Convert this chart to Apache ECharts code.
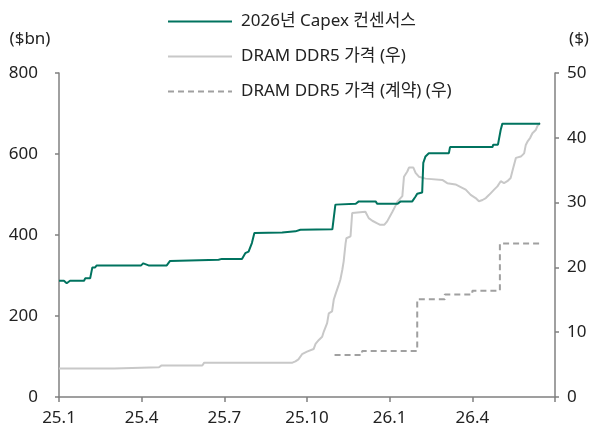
<!DOCTYPE html>
<html>
<head>
<meta charset="utf-8">
<script src="https://cdn.jsdelivr.net/npm/echarts@6/dist/echarts.min.js"></script>
<style>
html,body{margin:0;padding:0;background:#fff;}
#c{width:595px;height:428px;}
</style>
</head>
<body>
<div id="c"></div>
<script>
// X positions are in months since 2025-01 (0 = 25.1)
const xTickLabels = ['25.1', '25.4', '25.7', '25.10', '26.1', '26.4'];
const seriesNames = ['2026년 Capex 컨센서스', 'DRAM DDR5 가격 (우)', 'DRAM DDR5 가격 (계약) (우)'];

// 2026 Capex consensus ($bn, left axis)
const capexData = [
  [0, 287], [0.18, 287], [0.28, 281], [0.40, 287], [0.91, 287], [0.95, 293],
  [1.13, 293], [1.15, 297], [1.20, 297], [1.21, 320], [1.31, 320], [1.37, 325],
  [2.98, 325], [3.06, 330], [3.13, 330], [3.25, 325], [3.91, 325], [4.03, 336],
  [5.79, 339], [5.91, 341], [6.64, 341], [6.76, 355], [6.88, 359], [7.00, 380],
  [7.09, 405], [8.10, 406], [8.15, 409], [8.58, 409], [8.76, 413], [9.92, 414],
  [10.03, 475], [10.10, 477], [10.77, 477], [10.88, 483], [11.49, 483], [11.55, 477],
  [12.29, 477], [12.40, 483], [12.82, 483], [12.94, 495], [13.00, 502], [13.18, 505],
  [13.22, 578], [13.30, 594], [13.42, 602], [14.15, 602], [14.19, 617], [15.73, 617],
  [15.76, 623], [15.93, 623], [16.03, 660], [16.09, 675], [17.46, 675]
];

// DRAM DDR5 spot price ($, right axis)
const dramSpot = [
  [0, 4.4], [2.0, 4.4], [2.07, 4.6], [3.63, 4.6], [3.71, 4.85], [5.2, 4.85],
  [5.27, 5.3], [8.47, 5.3], [8.58, 5.5], [8.69, 5.8], [8.76, 6.0], [8.82, 6.6],
  [9.0, 7.0], [9.24, 7.4], [9.31, 8.2], [9.43, 8.8], [9.55, 9.3], [9.61, 10.1],
  [9.73, 11.4], [9.79, 12.9], [9.91, 13.2], [9.97, 15.0], [10.03, 15.8], [10.15, 17.3],
  [10.21, 18.1], [10.28, 19.6], [10.33, 20.9], [10.4, 23.7], [10.43, 24.5], [10.58, 24.8],
  [10.64, 28.4], [10.7, 28.6], [11.12, 28.6], [11.24, 27.6], [11.37, 27.2], [11.55, 26.8],
  [11.64, 26.6], [11.81, 26.6], [11.91, 27.1], [11.97, 27.2], [12.09, 28.5], [12.21, 29.5],
  [12.29, 30.2], [12.46, 31.0], [12.52, 34.0], [12.64, 34.8], [12.7, 35.4], [12.86, 35.4],
  [12.94, 34.6], [13.06, 34.0], [13.3, 33.7], [13.91, 33.5], [14.09, 33.0], [14.39, 32.8],
  [14.58, 32.4], [14.76, 32.0], [14.94, 31.2], [15.12, 30.7], [15.24, 30.2], [15.37, 30.4],
  [15.49, 30.7], [15.61, 31.2], [15.79, 32.0], [15.91, 32.5], [16.03, 33.3], [16.15, 33.0],
  [16.27, 33.3], [16.39, 33.8], [16.45, 34.8], [16.58, 36.9], [16.76, 37.1], [16.88, 37.6],
  [16.94, 38.9], [17.0, 39.4], [17.1, 40.0], [17.18, 40.7], [17.3, 41.2], [17.36, 41.8],
  [17.46, 42.3]
];

// DRAM DDR5 contract price ($, right axis), monthly steps
const dramContract = [
  [10, 6.5], [11, 7.1], [13, 15.1], [14, 15.8], [15, 16.4], [16, 23.7], [17.48, 23.7]
];

const FONT = '"Noto Sans", "Noto Sans CJK KR", sans-serif';
const axisColor = '#808080';
const textColor = '#222222';

const chart = echarts.init(document.getElementById('c'), null, {renderer: 'canvas'});
chart.setOption({
  animation: false,
  textStyle: {fontFamily: FONT},
  grid: {left: 59, right: 40, top: 73, bottom: 31, containLabel: false},
  legend: {
    orient: 'vertical',
    left: 162,
    top: 8,
    itemWidth: 64,
    itemHeight: 14,
    itemGap: 18,
    itemStyle: {opacity: 0},
    textStyle: {fontSize: 17, color: textColor, fontFamily: FONT, padding: [0, 0, 0, 4]},
    data: seriesNames
  },
  xAxis: {
    type: 'value',
    min: 0,
    max: 18,
    interval: 3,
    axisLine: {lineStyle: {color: axisColor, width: 1.5}},
    axisTick: {show: true, length: 5, lineStyle: {color: axisColor, width: 1.5}},
    splitLine: {show: false},
    axisLabel: {
      fontSize: 17, color: textColor, margin: 13,
      formatter: function (v) {
        const i = Math.round(v / 3);
        return (Math.abs(v - i * 3) < 1e-6 && i < xTickLabels.length) ? xTickLabels[i] : '';
      }
    }
  },
  yAxis: [
    {
      type: 'value', position: 'left', min: 0, max: 800, interval: 200,
      name: '($bn)', nameLocation: 'end', nameGap: 25,
      nameTextStyle: {fontSize: 17, color: textColor, align: 'center', padding: [0, 0, 0, -58]},
      axisLine: {show: true, lineStyle: {color: axisColor, width: 1.5}},
      axisTick: {show: true, length: 4, lineStyle: {color: axisColor, width: 1.5}},
      splitLine: {show: false},
      axisLabel: {fontSize: 17, color: textColor, margin: 21}
    },
    {
      type: 'value', position: 'right', min: 0, max: 50, interval: 10,
      name: '($)', nameLocation: 'end', nameGap: 25,
      nameTextStyle: {fontSize: 17, color: textColor, align: 'center', padding: [0, 0, 0, 48]},
      axisLine: {show: true, lineStyle: {color: axisColor, width: 1.5}},
      axisTick: {show: true, length: 4, lineStyle: {color: axisColor, width: 1.5}},
      splitLine: {show: false},
      axisLabel: {fontSize: 17, color: textColor, margin: 12}
    }
  ],
  series: [
    {
      name: seriesNames[0], type: 'line', yAxisIndex: 0, data: capexData,
      symbol: 'none', z: 5,
      lineStyle: {color: '#00735F', width: 2},
      itemStyle: {color: '#00735F'}
    },
    {
      name: seriesNames[1], type: 'line', yAxisIndex: 1, data: dramSpot,
      symbol: 'none', z: 3,
      lineStyle: {color: '#C8C8C8', width: 2},
      itemStyle: {color: '#C8C8C8'}
    },
    {
      name: seriesNames[2], type: 'line', yAxisIndex: 1, data: dramContract,
      symbol: 'none', step: 'end', z: 4,
      lineStyle: {color: '#A0A0A0', width: 2, type: [6, 4]},
      itemStyle: {color: '#A0A0A0'}
    }
  ]
});
</script>
</body>
</html>
